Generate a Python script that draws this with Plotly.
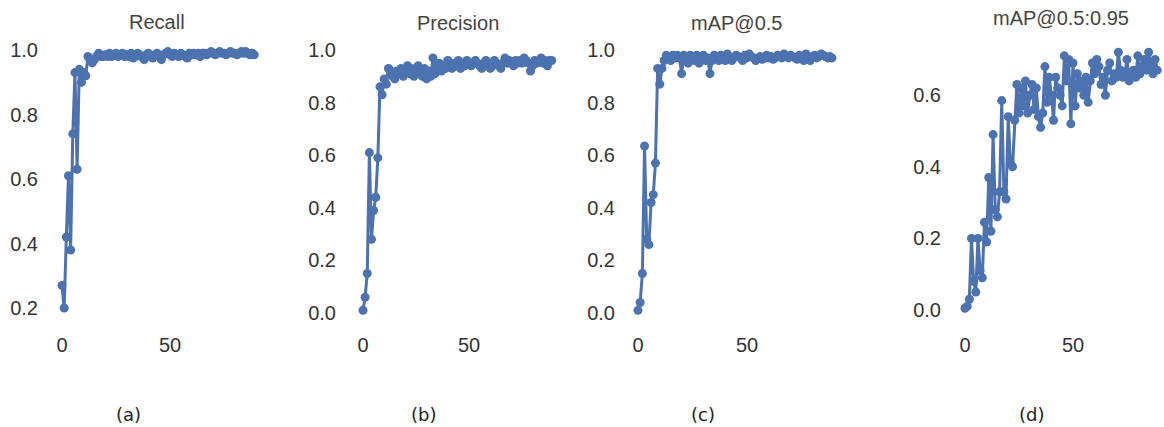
import plotly.graph_objects as go

W, H = 1164, 427

recall = [0.27, 0.20, 0.42, 0.61, 0.38, 0.74, 0.93, 0.63, 0.94, 0.90, 0.93, 0.92, 0.98, 0.97, 0.96, 0.97,
          0.98, 0.99, 0.98, 0.98, 0.985, 0.98, 0.99, 0.98, 0.985, 0.99, 0.98, 0.985, 0.99, 0.98, 0.985, 0.98,
          0.99, 0.975, 0.98, 0.99, 0.985, 0.98, 0.97, 0.985, 0.99, 0.98, 0.975, 0.985, 0.99, 0.98, 0.97, 0.985,
          0.99, 0.995, 0.985, 0.98, 0.99, 0.985, 0.98, 0.99, 0.985, 0.98, 0.975, 0.99, 0.985, 0.99, 0.985, 0.99,
          0.98, 0.99, 0.99, 0.985, 0.99, 0.995, 0.99, 0.985, 0.99, 0.995, 0.99, 0.99, 0.985, 0.99, 0.995, 0.99,
          0.99, 0.985, 0.99, 0.995, 0.99, 0.995, 0.99, 0.985, 0.99, 0.985]

precision = [0.01, 0.06, 0.15, 0.61, 0.28, 0.39, 0.44, 0.59, 0.86, 0.83, 0.89, 0.87, 0.93, 0.92, 0.90, 0.89,
             0.92, 0.91, 0.93, 0.90, 0.92, 0.94, 0.91, 0.93, 0.90, 0.92, 0.94, 0.91, 0.90, 0.93, 0.89, 0.92,
             0.90, 0.97, 0.91, 0.93, 0.95, 0.92, 0.94, 0.93, 0.96, 0.94, 0.93, 0.95, 0.94, 0.96, 0.93, 0.95,
             0.94, 0.96, 0.95, 0.94, 0.95, 0.96, 0.95, 0.94, 0.93, 0.95, 0.96, 0.95, 0.93, 0.94, 0.96, 0.95,
             0.94, 0.93, 0.95, 0.97, 0.95, 0.96, 0.95, 0.94, 0.96, 0.95, 0.96, 0.95, 0.97, 0.96, 0.95, 0.92,
             0.94, 0.96, 0.95, 0.96, 0.97, 0.95, 0.96, 0.94, 0.96, 0.96]

map50 = [0.01, 0.04, 0.15, 0.635, 0.28, 0.26, 0.42, 0.45, 0.57, 0.93, 0.87, 0.93, 0.96, 0.98, 0.97, 0.96,
         0.98, 0.97, 0.98, 0.97, 0.91, 0.98, 0.97, 0.95, 0.98, 0.97, 0.96, 0.98, 0.95, 0.97, 0.98, 0.96,
         0.97, 0.91, 0.96, 0.98, 0.97, 0.96, 0.98, 0.97, 0.96, 0.985, 0.97, 0.96, 0.97, 0.98, 0.975, 0.97,
         0.96, 0.98, 0.97, 0.985, 0.975, 0.97, 0.96, 0.97, 0.975, 0.965, 0.97, 0.98, 0.97, 0.975, 0.965, 0.97,
         0.98, 0.975, 0.97, 0.985, 0.975, 0.97, 0.98, 0.975, 0.97, 0.965, 0.98, 0.975, 0.96, 0.985, 0.97, 0.96,
         0.975, 0.98, 0.97, 0.975, 0.985, 0.98, 0.975, 0.97, 0.975, 0.97]

map5095 = [0.005, 0.01, 0.03, 0.20, 0.08, 0.05, 0.20, 0.11, 0.09, 0.245, 0.19, 0.37, 0.22, 0.49, 0.28, 0.26,
           0.33, 0.585, 0.33, 0.31, 0.54, 0.41, 0.40, 0.53, 0.63, 0.55, 0.62, 0.57, 0.64, 0.55, 0.60, 0.63,
           0.56, 0.62, 0.54, 0.51, 0.55, 0.68, 0.58, 0.65, 0.60, 0.53, 0.65, 0.62, 0.60, 0.57, 0.71, 0.64,
           0.70, 0.52, 0.69, 0.57, 0.66, 0.62, 0.64, 0.60, 0.65, 0.58, 0.64, 0.69, 0.66, 0.70, 0.68, 0.63,
           0.65, 0.60, 0.67, 0.69, 0.64, 0.66, 0.65, 0.72, 0.67, 0.65, 0.66, 0.70, 0.64, 0.66, 0.67, 0.65,
           0.71, 0.66, 0.68, 0.70, 0.67, 0.72, 0.68, 0.66, 0.70, 0.67]

titles = ["Recall", "Precision", "mAP@0.5", "mAP@0.5:0.95"]
sublabels = ["(a)", "(b)", "(c)", "(d)"]
series = [recall, precision, map50, map5095]
yticks = [[0.2, 0.4, 0.6, 0.8, 1.0], [0.0, 0.2, 0.4, 0.6, 0.8, 1.0],
          [0.0, 0.2, 0.4, 0.6, 0.8, 1.0], [0.0, 0.2, 0.4, 0.6]]
xticks = [0, 50]

# layout (pixels): plot box and axis calibration
boxes = [(50, 268, 34, 331), (351, 568, 34, 331), (626, 842, 34, 331), (953, 1164, 34, 331)]
standoffs = [11, 14, 10, 11]
# x0 pixel, px per epoch, y ref pixel, y ref value, px per unit
calib = [(62, 2.16, 308, 0.2, 322.5), (363, 2.12, 313, 0.0, 263), (638, 2.18, 313, 0.0, 263),
         (965, 2.16, 310, 0.0, 358)]
title_pos = [(157, 22), (458, 23), (736, 23), (1061, 18)]
label_pos = [(128, 414), (423, 414), (703, 414), (1031, 414)]

COLOR = "#4c72b0"
FONT = "Liberation Sans, Arial"
fig = go.Figure()
for i in range(4):
    L, R, T, B = boxes[i]
    x0, pxe, yp, yv, ppu = calib[i]
    xr = [(L - x0) / pxe, (R - x0) / pxe]
    yr = [yv - (B - yp) / ppu, yv + (yp - T) / ppu]
    sfx = "" if i == 0 else str(i + 1)
    fig.add_trace(go.Scatter(
        x=list(range(len(series[i]))), y=series[i], mode="lines+markers",
        line=dict(color=COLOR, width=3), marker=dict(color=COLOR, size=9),
        xaxis="x" + sfx, yaxis="y" + sfx, cliponaxis=False, showlegend=False))
    fig.layout["xaxis" + sfx] = dict(
        domain=[L / W, R / W], range=xr, anchor="y" + sfx, tickvals=xticks,
        showgrid=False, zeroline=False, showline=False, ticks="",
        tickfont=dict(family=FONT, size=20, color="#333333"))
    fig.layout["yaxis" + sfx] = dict(
        domain=[1 - B / H, 1 - T / H], range=yr, anchor="x" + sfx, tickvals=yticks[i],
        ticktext=["%.1f" % v for v in yticks[i]],
        showgrid=False, zeroline=False, showline=False, ticks="", ticklabelstandoff=standoffs[i],
        tickfont=dict(family=FONT, size=20, color="#333333"))
    fig.add_annotation(x=title_pos[i][0] / W, y=1 - title_pos[i][1] / H, xref="paper", yref="paper",
                       text=titles[i], showarrow=False, xanchor="center", yanchor="middle",
                       font=dict(family=FONT, size=20, color="#444444"))
    fig.add_annotation(x=label_pos[i][0] / W, y=1 - label_pos[i][1] / H, xref="paper", yref="paper",
                       text=sublabels[i], showarrow=False, xanchor="center", yanchor="middle",
                       font=dict(family="DejaVu Sans, Liberation Sans", size=18, color="#222222"))

fig.update_layout(width=W, height=H, margin=dict(l=0, r=0, t=0, b=0),
                  paper_bgcolor="white", plot_bgcolor="white")
fig.write_html("out.html", config={"displayModeBar": False},
               post_script="document.body.style.margin='0px';document.body.style.overflow='hidden';")
